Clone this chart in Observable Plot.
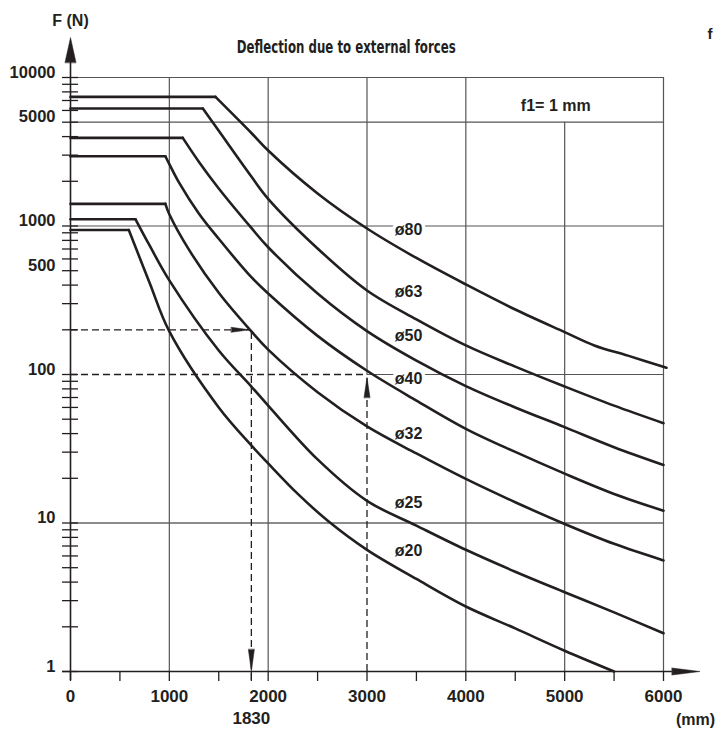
<!DOCTYPE html>
<html>
<head>
<meta charset="utf-8">
<script src="https://cdn.jsdelivr.net/npm/d3@7"></script>
<script src="https://cdn.jsdelivr.net/npm/@observablehq/plot@0.6"></script>
<style>
  html, body { margin: 0; padding: 0; background: #fff; }
  svg { display: block; }
</style>
</head>
<body>
<div id="chart"></div>
<script>
// ---- Data (stroke length in mm, force in N) ----
const diameters = ["ø20", "ø25", "ø32", "ø40", "ø50", "ø63", "ø80"];
const d20 = [[0,940],[590,940],[800,415],[1000,195],[1500,60],[1830,33.3],[2000,25.2],[2300,15.7],[2600,10.4],[3000,6.6],[3500,4.2],[4000,2.74],[4500,1.95],[5000,1.38],[5500,1.0]];
const d25 = [[0,1110],[658,1110],[800,740],[1000,430],[1500,145],[1830,83],[2000,61.8],[2500,26.8],[3000,14.1],[3500,9.6],[4000,6.6],[4500,4.7],[5000,3.42],[5500,2.5],[6000,1.81]];
const d32 = [[0,1410],[960,1410],[1000,1200],[1200,690],[1500,355],[1830,195],[2000,147],[2500,76],[3000,44.7],[3500,29.4],[4000,19.8],[4500,13.8],[5000,9.85],[5500,7.24],[6000,5.6]];
const d40 = [[0,2950],[960,2950],[1000,2610],[1100,1950],[1300,1210],[1500,820],[1830,452],[2000,351],[2500,182],[3000,106],[3500,66.8],[4000,43.1],[4500,30.1],[5000,21.5],[5500,15.7],[6000,12.1]];
const d50 = [[0,3920],[1136,3920],[1300,2700],[1500,1790],[1830,970],[2000,719],[2500,351],[3000,196],[3500,124],[4000,83.6],[4500,60],[5000,44.2],[5500,32.4],[6000,24.6]];
const d63 = [[0,6180],[1339,6180],[1500,4375],[1830,2154],[2000,1525],[2500,706],[3000,368],[3500,235],[4000,157],[4500,113],[5000,83],[5500,61.7],[6000,47]];
const d80 = [[0,7400],[1467,7400],[1830,4230],[2000,3222],[2500,1656],[3000,962],[3500,609],[4000,404],[4500,274],[5000,193],[5300,157],[5640,134],[6030,111]];
const series = [d20, d25, d32, d40, d50, d63, d80];

// curve label anchors (mm, N)
const labelMm = [3420, 3420, 3420, 3420, 3420, 3420, 3420];
const labelN = [6.5, 13.6, 39.6, 93.5, 183, 358, 947];

// axes
const yLabelTicks = [1, 10, 100, 500, 1000, 5000, 10000];
const yMinorTicks = [1,2,3,4,5,6,7,8,9,10,20,30,40,50,60,70,80,90,100,200,300,400,500,600,700,800,900,1000,2000,3000,4000,5000,6000,7000,8000,9000,10000];
const xLabelTicks = [0, 1000, 2000, 3000, 4000, 5000, 6000];
const xMinorTicks = [0, 500, 1000, 1500, 1830, 2000, 2500, 3000, 3500, 4000, 4500, 5000, 5500, 6000];
const gridYFull = [1000, 5000, 10000];
const gridXFull = [1000, 2000, 4000, 6000];

// reading examples
const examples = [{mm: 1830, N: 200}, {mm: 3000, N: 100}];

// texts
const titleText = "Deflection due to external forces";
const yTitle = "F (N)";
const xTitle = "(mm)";
const boxText = "f1= 1 mm";
const cornerText = "f";

// ---- Build tables ----
const rows = series.flatMap((pts, k) => pts.map(([mm, N], i) => ({name: diameters[k], mm, N, i})));
const flatRows = rows.filter(d => d.i <= 1);
const fallRows = rows.filter(d => d.i >= 1);
const labelRows = diameters.map((name, k) => ({name, mm: labelMm[k], N: labelN[k]}));

const ink = "#231f20";
const grid = "#555";
const triangle = {
  draw(context, l, r) {
    context.moveTo(-r, 0);
    context.lineTo(0, -l);
    context.lineTo(r, 0);
    context.closePath();
  }
};
const fmt = d => String(d);
const mid = {lineAnchor: "middle", fill: ink};

const plot = Plot.plot({
  width: 715,
  height: 729,
  marginLeft: 70,
  marginRight: 52,
  marginTop: 77,
  marginBottom: 58,
  style: {fontFamily: "'Liberation Sans', Arial, Helvetica, sans-serif", fontSize: "16px", fontWeight: "bold", color: ink, background: "white"},
  x: {domain: [0, 6000], label: null},
  y: {type: "log", domain: [1, 10000], label: null, axis: null},
  marks: [
    // grid
    Plot.ruleY(gridYFull, {x1: 0, x2: 6000, stroke: grid, strokeWidth: 1.2}),
    Plot.ruleY([10], {x1: 0, x2: 6000, stroke: "#8c8c8c", strokeWidth: 2}),
    Plot.ruleY([100], {x1: 3000, x2: 6000, stroke: grid, strokeWidth: 1.2}),
    Plot.ruleX(gridXFull, {y1: 1, y2: 10000, stroke: grid, strokeWidth: 1.2}),
    Plot.ruleX([5000], {y1: 1, y2: 5000, stroke: grid, strokeWidth: 1.2}),
    Plot.ruleX([3000], {y1: 100, y2: 10000, stroke: grid, strokeWidth: 1.2}),
    // dashed reading lines
    Plot.ruleY(examples, {y: "N", x1: 0, x2: "mm", stroke: ink, strokeWidth: 1.3, strokeDasharray: "7,4"}),
    Plot.ruleX([examples[0]], {x: "mm", y1: 0.87, y2: "N", stroke: ink, strokeWidth: 1.3, strokeDasharray: "7,4"}),
    Plot.ruleX([examples[1]], {x: "mm", y1: 1, y2: "N", stroke: ink, strokeWidth: 1.3, strokeDasharray: "7,4"}),
    Plot.vector([examples[0]], {x: "mm", y: "N", dx: -2, rotate: 90, length: 18, r: 2.5, anchor: "end", shape: triangle, fill: ink, stroke: ink, strokeWidth: 0.5}),
    Plot.vector([examples[0]], {x: "mm", y: () => 1, rotate: 180, length: 22, r: 3, anchor: "end", shape: triangle, fill: ink, stroke: ink, strokeWidth: 0.5}),
    Plot.vector([examples[1]], {x: "mm", y: "N", dy: 3, rotate: 0, length: 20, r: 3, anchor: "end", shape: triangle, fill: ink, stroke: ink, strokeWidth: 0.5}),
    // y minor ticks
    Plot.ruleY(yMinorTicks, {x1: -81, x2: 81, stroke: ink, strokeWidth: 1.3}),
    // y tick labels
    Plot.text(yLabelTicks, {x: () => 0, y: d => d, text: fmt, dx: -15, dy: -5, textAnchor: "end", fontSize: 16.5, ...mid}),
    // x axis
    Plot.axisX({ticks: xMinorTicks, tickSize: 10, tickFormat: () => "", label: null, strokeWidth: 1.3}),
    Plot.axisX({ticks: xLabelTicks, tickSize: 0, tickPadding: 18, tickFormat: fmt, label: null, fontSize: 17}),
    Plot.ruleX([0], {y1: 0.87, y2: 12700, stroke: ink, strokeWidth: 1.6}),
    Plot.ruleY([1], {x1: -81, x2: 6090, stroke: ink, strokeWidth: 1.6}),
    Plot.vector([0], {x: d => d, frameAnchor: "top", dy: -40, rotate: 0, length: 25, r: 5.5, anchor: "end", shape: triangle, fill: ink, stroke: ink, strokeWidth: 0.5}),
    Plot.vector([1], {x: () => 6370, y: d => d, rotate: 90, length: 28, r: 3.5, anchor: "end", shape: triangle, fill: ink, stroke: ink, strokeWidth: 0.5}),
    // curve labels (white halo knocks out grid)
    Plot.text(labelRows, {x: "mm", y: "N", text: "name", fill: ink, stroke: "white", strokeWidth: 7, paintOrder: "stroke", fontSize: 16}),
    // curves
    Plot.line(flatRows, {x: "mm", y: "N", z: "name", stroke: ink, strokeWidth: 2.6}),
    Plot.line(fallRows, {x: "mm", y: "N", z: "name", stroke: ink, strokeWidth: 2.6, curve: "catmull-rom"}),
    // texts
    Plot.text([titleText], {x: () => 2790, frameAnchor: "top", dy: -30, text: d => d, fontSize: 17.5, fontFamily: "'DejaVu Sans Condensed', 'Liberation Sans Narrow', 'DejaVu Sans', sans-serif", ...mid}),
    Plot.text([yTitle], {x: () => 0, frameAnchor: "top", dy: -57, text: d => d, fontSize: 16, ...mid}),
    Plot.text([cornerText], {x: () => 6471, frameAnchor: "top", dy: -43, text: d => d, fontSize: 15, ...mid}),
    Plot.text([boxText], {x: () => 4910, y: () => 6450, text: d => d, fontSize: 16, ...mid}),
    Plot.text([xTitle], {x: () => 6324, frameAnchor: "bottom", dy: 48, text: d => d, fontSize: 16, ...mid}),
    Plot.text([String(examples[0].mm)], {x: () => examples[0].mm, frameAnchor: "bottom", dy: 47, text: d => d, fontSize: 17, ...mid})
  ]
});

d3.select(plot).selectAll("text").filter(function() { return this.textContent === titleText; })
  .attr("textLength", 219).attr("lengthAdjust", "spacingAndGlyphs");

document.getElementById("chart").append(plot);
</script>
</body>
</html>
